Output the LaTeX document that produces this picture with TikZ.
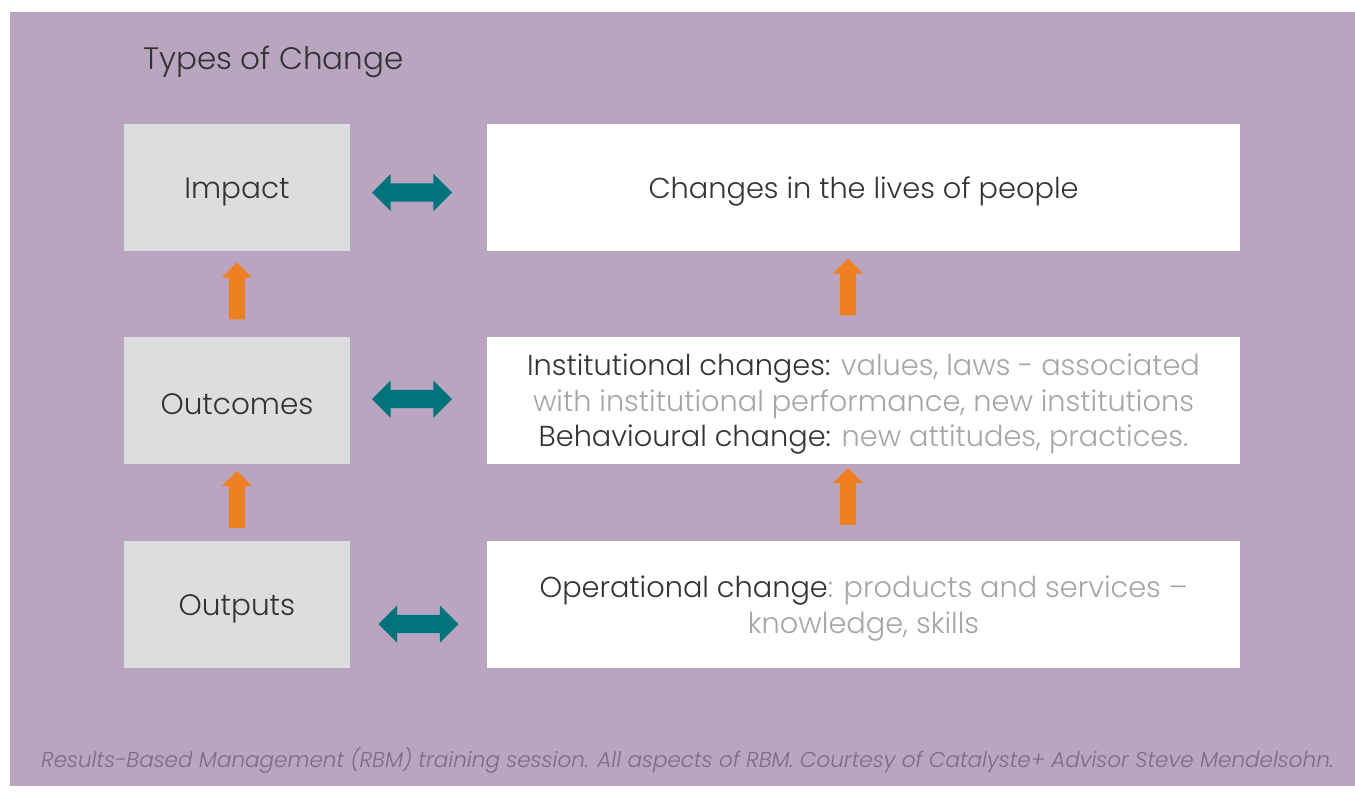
\documentclass[tikz,border=0pt]{standalone}
\usepackage{fontspec}
\setmainfont{Poppins}[UprightFont=* Light, ItalicFont=* Light Italic, BoldFont=* Regular]
\usetikzlibrary{shapes.arrows}
\definecolor{bgpurple}{HTML}{B9A5C0}
\definecolor{boxgray}{HTML}{DCDDDF}
\definecolor{teal}{HTML}{00747A}
\definecolor{orng}{HTML}{EE7F22}
\definecolor{darktxt}{HTML}{333333}
\definecolor{greytxt}{HTML}{A6A6A6}
\definecolor{foot}{HTML}{7D6B84}
\tikzset{
  x=1pt, y=-1pt,
  leftbox/.style={fill=boxgray, minimum width=226pt, minimum height=127pt, inner sep=0pt, text=darktxt, font=\fontsize{29.5}{34}\selectfont},
  rightbox/.style={fill=white, minimum width=753pt, minimum height=127pt, inner sep=0pt, text=darktxt, align=center, font=\fontsize{28.8}{35.5}\selectfont},
  boxtext/.style={inner sep=0pt, text=darktxt, align=center},
  uparrow/.style={single arrow, fill=orng, draw=none, inner sep=8pt, minimum width=30pt, minimum height=57pt, single arrow head extend=7pt, shape border rotate=90},
  twoarrow/.style={double arrow, fill=teal, draw=none, inner sep=9pt, minimum width=37pt, minimum height=80pt, double arrow head extend=9.5pt},
}
\newcommand{\gr}[1]{\textcolor{greytxt}{#1}}
\begin{document}
\begin{tikzpicture}
\useasboundingbox (0,0) rectangle (1355,798);
\fill[white] (0,0) rectangle (1355,798);
\fill[bgpurple] (10,12) rectangle (1355,786);
\node[anchor=west, text=darktxt, font=\fontsize{31}{35}\selectfont, inner sep=0pt] (title) at (143,62) {Types of Change};

\node[leftbox] (impact) at (237,187.5) {};
\node[leftbox] (outcomes) at (237,400.5) {};
\node[leftbox] (outputs) at (237,604.5) {};
\node[boxtext, font=\fontsize{29.5}{34}\selectfont] at ([yshift=-4pt]impact.center) {Impact};
\node[boxtext, font=\fontsize{29.5}{34}\selectfont] at ([yshift=-4pt]outcomes.center) {Outcomes};
\node[boxtext, font=\fontsize{29.5}{34}\selectfont] at ([yshift=-4pt]outputs.center) {Outputs};

\node[rightbox] (lives) at (863.5,187.5) {};
\node[rightbox] (inst) at (863.5,400.5) {};
\node[rightbox] (oper) at (863.5,604.5) {};
\node[boxtext, font=\fontsize{28.8}{35.5}\selectfont] at ([yshift=-4pt]lives.center) {Changes in the lives of people};
\node[boxtext, font=\fontsize{28.8}{35.5}\selectfont] at ([yshift=-4pt]inst.center) {Institutional changes: \gr{values, laws - associated}\\ \gr{with institutional performance, new institutions}\\ Behavioural change: \gr{new attitudes, practices.}};
\node[boxtext, font=\fontsize{28.8}{35.5}\selectfont] at ([yshift=-4pt]oper.center) {Operational change\gr{: products and services –}\\ \gr{knowledge, skills}};

\node[twoarrow] (d1) at (412,192.5) {};
\node[twoarrow] (d2) at (412,399) {};
\node[twoarrow] (d3) at (418.5,624) {};

\node[uparrow] (u1) at (237,295) {};
\node[uparrow] (u2) at (237,503.5) {};
\node[uparrow] (u3) at (848,291) {};
\node[uparrow] (u4) at (848,500.5) {};

\node[text=foot, font=\fontsize{21.5}{24}\selectfont\itshape, inner sep=0pt] (footer) at (687.5,760) {Results-Based Management (RBM) training session. All aspects of RBM. Courtesy of Catalyste+ Advisor Steve Mendelsohn.};
\end{tikzpicture}
\end{document}
